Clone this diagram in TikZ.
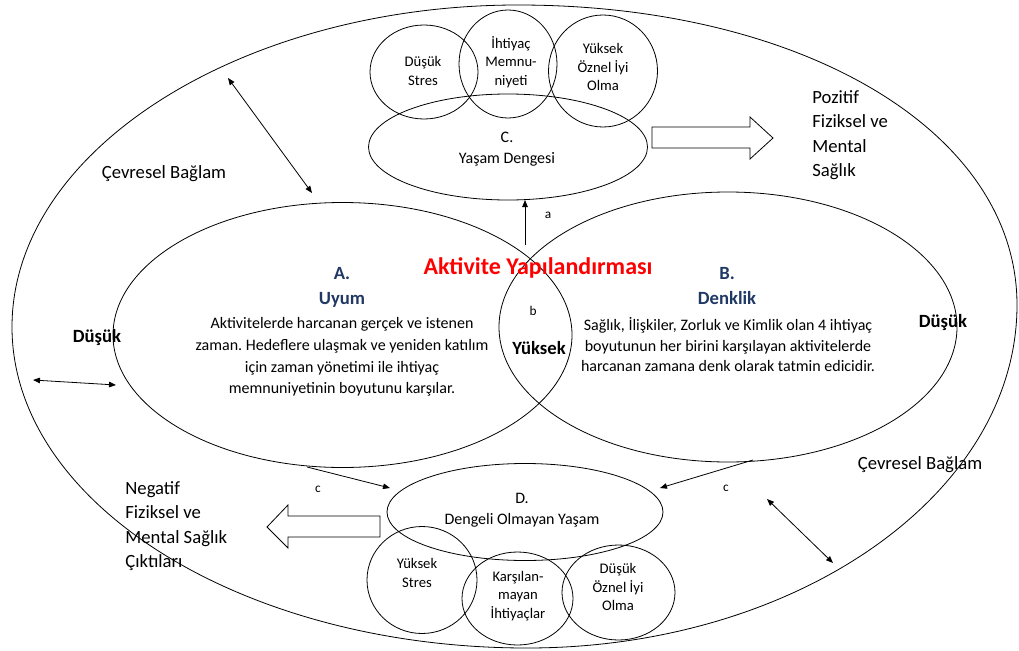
\documentclass[tikz,border=0pt]{standalone}
\usepackage{fontspec}
\setmainfont{Carlito}
\usetikzlibrary{shapes.geometric,arrows.meta}
\definecolor{navy}{HTML}{1F3864}
\frenchspacing
\begin{document}
\begin{tikzpicture}[x=1pt,y=-1pt,
  line width=0.8pt,
  ell/.style={draw, ellipse, inner sep=0pt, line width=0.8pt},
  txt/.style={font=\fontsize{16}{21.7}\selectfont, align=center, inner sep=0pt},
  small/.style={font=\fontsize{14.67}{18.3}\selectfont, align=center, inner sep=0pt},
  mid/.style={font=\fontsize{16}{21}\selectfont, align=center, inner sep=0pt},
  big/.style={font=\fontsize{18.67}{24.5}\selectfont, align=left, inner sep=0pt},
  bigb/.style={font=\fontsize{18.67}{25}\selectfont\bfseries, align=center, inner sep=0pt},
  lab/.style={font=\fontsize{13.33}{16}\selectfont, inner sep=0pt},
  arr/.style={-{Triangle[length=7pt,width=5.5pt]}, line width=0.8pt},
  darr/.style={{Triangle[length=7pt,width=5.5pt]}-{Triangle[length=7pt,width=5.5pt]}, line width=0.8pt},
  block/.style={draw, line width=0.8pt, fill=white, line join=miter}
]
\useasboundingbox (0,0) rectangle (1019,650);

% outer environment shape
\draw (12,327) .. controls (12,149) and (243,5) .. (518,5)
      .. controls (802,5) and (1017,131) .. (1017,305)
      .. controls (1017,494) and (797,648) .. (527,648)
      .. controls (243,648) and (12,504) .. (12,327) -- cycle;

% main ellipses
\node[ell, minimum width=459, minimum height=265] (A) at (342.5,335) {};
\node[ell, minimum width=458, minimum height=270] (B) at (728,327) {};
\node[ell, minimum width=279, minimum height=106] (C) at (508,147) {};
\node[ell, minimum width=276, minimum height=97] (D) at (525,512) {};

% top circles
\node[ell, minimum width=108, minimum height=94] (c1) at (424,72) {};
\node[ell, minimum width=98, minimum height=108] (c2) at (508,64) {};
\node[ell, minimum width=109, minimum height=112] (c3) at (603,71) {};

% bottom circles
\node[ell, minimum width=110, minimum height=107] (d1) at (422,580) {};
\node[ell, minimum width=111, minimum height=93] (d2) at (517.5,598.5) {};
\node[ell, minimum width=113, minimum height=95] (d3) at (618.5,592.5) {};

% texts in circles
\node[small] (t1) at (423,71) {Düşük\\Stres};
\node[small] (t2) at (511,62) {İhtiyaç\\Memnu-\\niyeti};
\node[small] (t3) at (603,67) {Yüksek\\Öznel İyi\\Olma};
\node[mid] (tC) at (507,149) {C.\\Yaşam Dengesi};
\node[mid] (tD) at (522,510) {D.\\Dengeli Olmayan Yaşam};
\node[small] (u1) at (417,573) {Yüksek\\Stres};
\node[small] (u2) at (518,596) {Karşılan-\\mayan\\İhtiyaçlar};
\node[small] (u3) at (618,587) {Düşük\\Öznel İyi\\Olma};

% central texts
\node[font=\fontsize{24}{28}\selectfont\bfseries, text=red, inner sep=0pt] (title) at (538,268) {Aktivite Yapılandırması};
\node[bigb, text=navy] (Ahead) at (342,287) {A.\\Uyum};
\node[txt] (Abody) at (342,357) {Aktivitelerde harcanan gerçek ve istenen\\zaman. Hedeflere ulaşmak ve yeniden katılım\\için zaman yönetimi ile ihtiyaç\\memnuniyetinin boyutunu karşılar.};
\node[bigb, text=navy] (Bhead) at (727,286) {B.\\Denklik};
\node[txt, font=\fontsize{16}{20.5}\selectfont] (Bbody) at (728,345) {Sağlık, İlişkiler, Zorluk ve Kimlik olan 4 ihtiyaç\\boyutunun her birini karşılayan aktivitelerde\\harcanan zamana denk olarak tatmin edicidir.};
\node[bigb] (yuk) at (539,348) {Yüksek};
\node[bigb] (dusL) at (97,338) {Düşük};
\node[bigb] (dusR) at (943,323) {Düşük};
\node[lab] (la) at (548,215) {a};
\node[lab] (lb) at (533,311) {b};
\node[lab] (lc1) at (318,489) {c};
\node[lab] (lc2) at (726,488) {c};

% outside texts
\node[big] (env1) at (164,174) {Çevresel Bağlam};
\node[big] (env2) at (920,465) {Çevresel Bağlam};
\node[big, anchor=west] (pos) at (812,135) {Pozitif\\Fiziksel ve\\Mental\\Sağlık};
\node[big, anchor=west] (neg) at (125,526) {Negatif\\Fiziksel ve\\Mental Sağlık\\Çıktıları};

% block arrows
\draw[block] (652,127) -- (750,127) -- (750,117) -- (773,138) -- (750,159) -- (750,148) -- (652,148) -- cycle;
\draw[block] (380,516) -- (288,516) -- (288,505) -- (267,527) -- (288,548) -- (288,537) -- (380,537) -- cycle;

% connector coordinates
\coordinate (aS) at (525,245);
\coordinate (aE) at (525,200);
\coordinate (c1S) at (307,467);
\coordinate (c1E) at (390,488);
\coordinate (c2S) at (753,460);
\coordinate (c2E) at (660,488);
\coordinate (e1a) at (228,78);
\coordinate (e1b) at (312,193);
\coordinate (e2a) at (33,380);
\coordinate (e2b) at (116,385);
\coordinate (e3a) at (767,499);
\coordinate (e3b) at (833,563);

\draw[arr] (aS) -- (aE);
\draw[arr] (c1S) -- (c1E);
\draw[arr] (c2S) -- (c2E);
\draw[darr] (e1a) -- (e1b);
\draw[darr] (e2a) -- (e2b);
\draw[darr] (e3a) -- (e3b);
\end{tikzpicture}
\end{document}
